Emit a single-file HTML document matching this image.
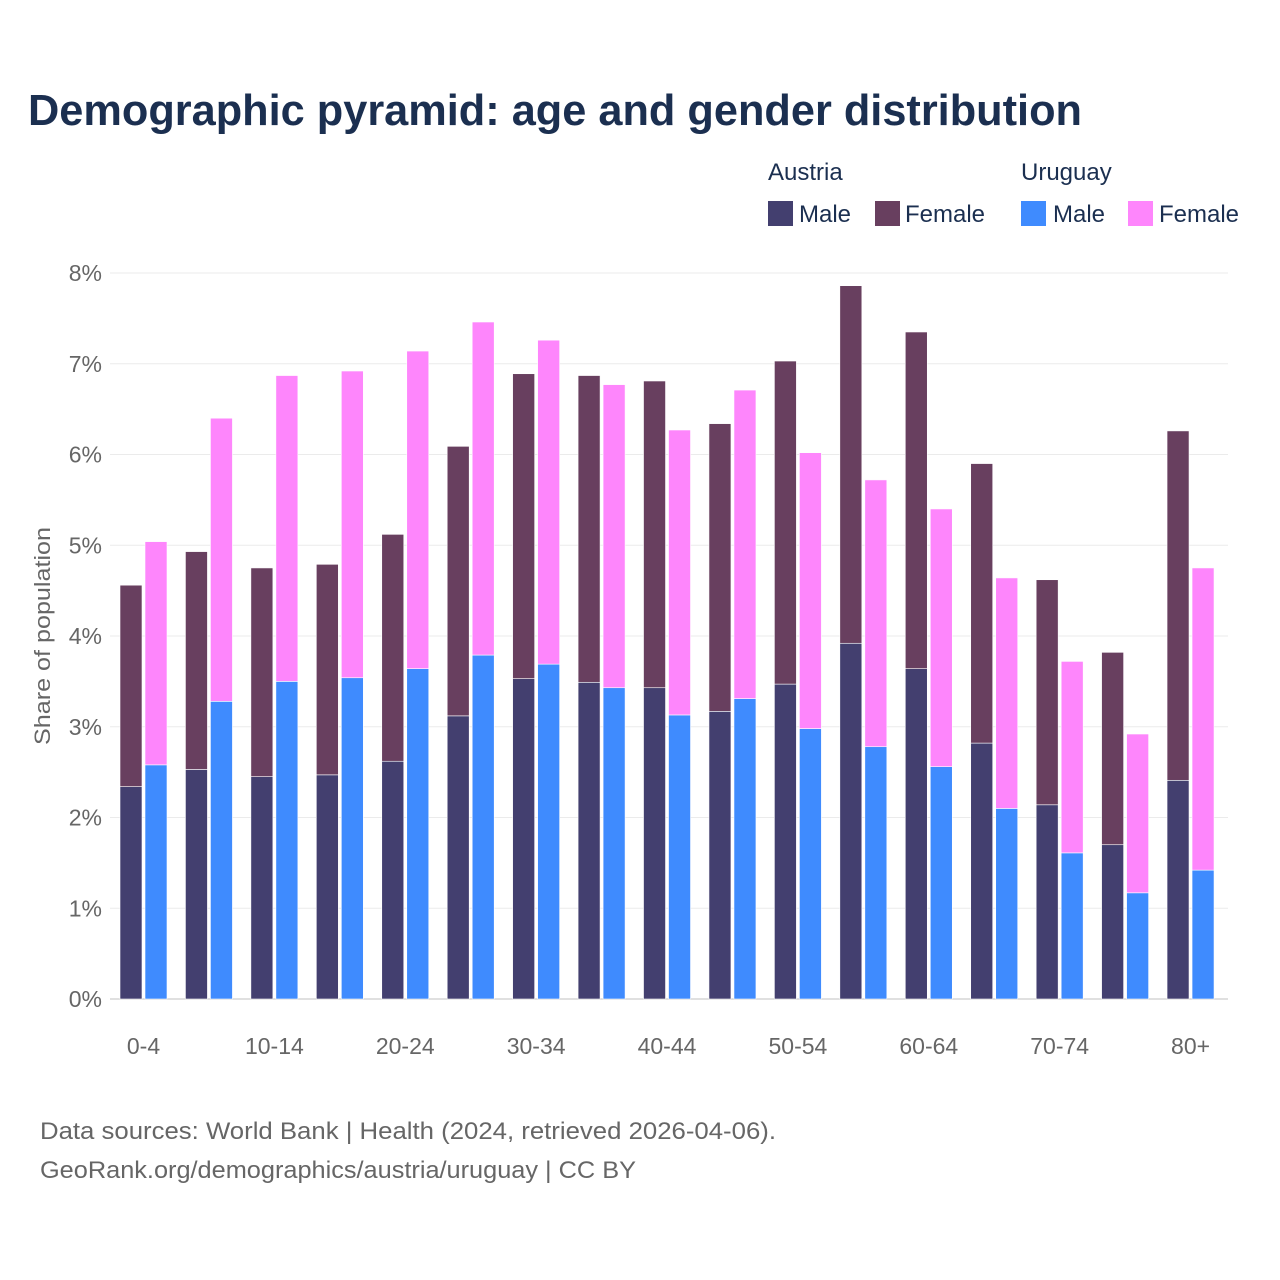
<!DOCTYPE html>
<html><head><meta charset="utf-8"><style>
html,body{margin:0;padding:0;background:#fff;}
svg{display:block;font-family:"Liberation Sans",sans-serif;}
</style></head><body>
<svg id="chart" width="1280" height="1280" viewBox="0 0 1280 1280">
<text x="28" y="125" font-size="44" font-weight="bold" fill="#1b2f50" textLength="1054" lengthAdjust="spacingAndGlyphs">Demographic pyramid: age and gender distribution</text>
<g font-size="24" fill="#1b2f50">
<text x="768" y="180">Austria</text>
<text x="1021" y="180">Uruguay</text>
<rect x="768" y="201" width="25" height="25" fill="#433f6f"/>
<text x="799" y="222">Male</text>
<rect x="875" y="201" width="25" height="25" fill="#683f5f"/>
<text x="905" y="222">Female</text>
<rect x="1021" y="201" width="25" height="25" fill="#3f8bfe"/>
<text x="1053" y="222">Male</text>
<rect x="1128" y="201" width="25" height="25" fill="#fe86fc"/>
<text x="1159" y="222">Female</text>
</g>
<g id="grid"></g>
<g id="bars"></g>
<g id="xaxis"></g>
<text transform="translate(50,636) rotate(-90)" text-anchor="middle" font-size="22" fill="#666" textLength="218" lengthAdjust="spacingAndGlyphs">Share of population</text>
<text x="40" y="1139" font-size="24" fill="#666" textLength="736" lengthAdjust="spacingAndGlyphs">Data sources: World Bank | Health (2024, retrieved 2026-04-06).</text>
<text x="40" y="1178" font-size="24" fill="#666" textLength="596" lengthAdjust="spacingAndGlyphs">GeoRank.org/demographics/austria/uruguay | CC BY</text>
</svg>
<script>
const categories = ["0-4","5-9","10-14","15-19","20-24","25-29","30-34","35-39","40-44","45-49","50-54","55-59","60-64","65-69","70-74","75-79","80+"];
const austriaMale = [2.34,2.53,2.45,2.47,2.62,3.12,3.53,3.49,3.43,3.17,3.47,3.92,3.64,2.82,2.14,1.70,2.41];
const austriaFemale = [2.22,2.40,2.30,2.32,2.50,2.97,3.36,3.38,3.38,3.17,3.56,3.94,3.71,3.08,2.48,2.12,3.85];
const uruguayMale = [2.58,3.28,3.50,3.54,3.64,3.79,3.69,3.43,3.13,3.31,2.98,2.78,2.56,2.10,1.61,1.17,1.42];
const uruguayFemale = [2.46,3.12,3.37,3.38,3.50,3.67,3.57,3.34,3.14,3.40,3.04,2.94,2.84,2.54,2.11,1.75,3.33];
const yTicks = [0,1,2,3,4,5,6,7,8];
const yTickLabels = ["0%","1%","2%","3%","4%","5%","6%","7%","8%"];

const NS="http://www.w3.org/2000/svg";
const y0=999, pxPer=90.75;
const yScale=v=>y0-v*pxPer;
const groupStart=120, groupStep=65.44, barW=22, barGap=3;
const xA=i=>groupStart+i*groupStep;
function mk(tag,attrs,parent){const e=document.createElementNS(NS,tag);for(const k in attrs)e.setAttribute(k,attrs[k]);parent.appendChild(e);return e;}
const grid=document.getElementById('grid'), bars=document.getElementById('bars'), xaxis=document.getElementById('xaxis');
yTicks.forEach((t,i)=>{
  const l=mk('line',{x1:110,x2:1228,y1:yScale(t),y2:yScale(t),stroke:t===0?'#e0e0e0':'#ebebeb','stroke-width':t===0?2:1},grid);
  
  
  const tx=mk('text',{x:102,y:yScale(t)+8,'text-anchor':'end','font-size':23,fill:'#666'},grid);
  tx.textContent=yTickLabels[i];
  
  
});
function seg(x,base,val,color,name){
  const r=mk('rect',{x:x,y:yScale(base+val),width:barW,height:val*pxPer,fill:color,stroke:'#ffffff','stroke-width':0.6},bars);
  
  
}
categories.forEach((c,i)=>{
  const xa=xA(i), xu=xa+barW+barGap;
  seg(xa,0,austriaMale[i],'#433f6f','bar-austria-male-'+c);
  seg(xa,austriaMale[i],austriaFemale[i],'#683f5f','bar-austria-female-'+c);
  seg(xu,0,uruguayMale[i],'#3f8bfe','bar-uruguay-male-'+c);
  seg(xu,uruguayMale[i],uruguayFemale[i],'#fe86fc','bar-uruguay-female-'+c);
  if(i%2===0){
    const t=mk('text',{x:xa+barW+barGap/2,y:1054,'text-anchor':'middle','font-size':23,fill:'#666'},xaxis);
    t.textContent=c;
    
    
  }
});
</script>
</body></html>
